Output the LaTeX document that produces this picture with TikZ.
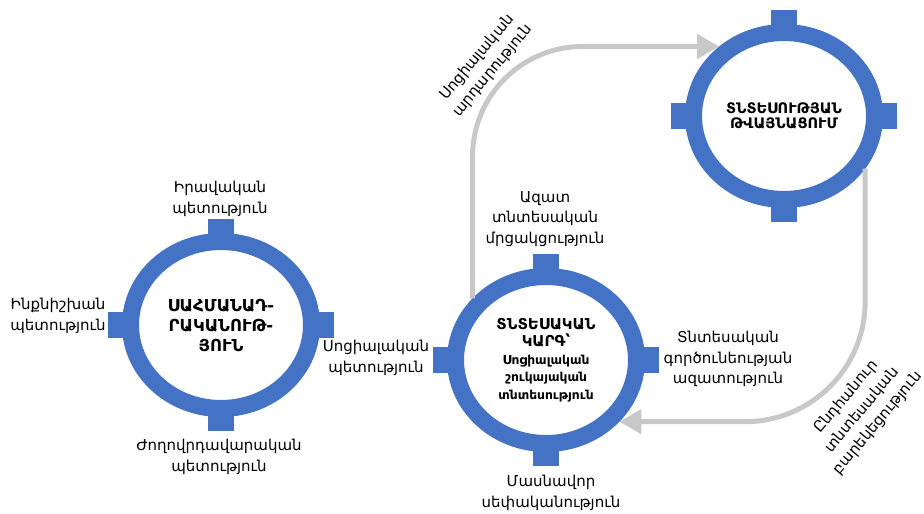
\documentclass[tikz,border=0pt]{standalone}
\usepackage{fontspec}
\setmainfont{DejaVu Sans}
\usetikzlibrary{shapes.geometric,arrows.meta,backgrounds}

\definecolor{ringblue}{RGB}{68,114,196}
\definecolor{flowgray}{RGB}{200,200,200}

\newcommand{\capsfont}{\bfseries\fontsize{15}{18}\selectfont}
\newcommand{\subfont}{\bfseries\fontsize{12.3}{17.5}\selectfont}

\tikzset{
  ring/.style={ellipse, draw=ringblue, line width=17pt, fill=white,
    minimum width=181pt, minimum height=167pt, inner sep=0pt,
    outer sep=8.5pt, align=center},
  flow/.style={draw=flowgray, line width=5pt,
    -{Triangle[length=22pt,width=24pt]}},
  lbl/.style={align=center, inner sep=0pt,
    font=\fontsize{15}{20.5}\selectfont},
}

\begin{document}
\begin{tikzpicture}[x=1pt,y=-1pt]
  \useasboundingbox (0,0) rectangle (924,514);

  % rings
  \begin{scope}[every node/.style={ring}]
    \node[font=\bfseries\fontsize{16.5}{20}\selectfont] (constitution) at (221,325)
      {ՍԱՀՄԱՆԱԴ-\\ՐԱԿԱՆՈՒԹ-\\ՅՈՒՆ};
    \node[font=\subfont] (order) at (546,360)
      {\capsfont ՏՆՏԵՍԱԿԱՆ\\\capsfont ԿԱՐԳ՝\\Սոցիալական\\շուկայական\\տնտեսություն};
    \node[font=\bfseries\fontsize{14.5}{15.5}\selectfont] (digital) at (784,116)
      {ՏՆՏԵՍՈՒԹՅԱՆ\\ԹՎԱՅՆԱՑՈՒՄ};
  \end{scope}

  % tabs
  \begin{pgfonlayer}{background}
    \foreach \r in {constitution,order,digital}{
      \fill[ringblue] ([xshift=-13pt,yshift=-12pt]\r.north) rectangle ([xshift=13pt,yshift=14pt]\r.north);
      \fill[ringblue] ([xshift=-13pt,yshift=12pt]\r.south) rectangle ([xshift=13pt,yshift=-14pt]\r.south);
      \fill[ringblue] ([xshift=12pt,yshift=-13pt]\r.west) rectangle ([xshift=-14pt,yshift=13pt]\r.west);
      \fill[ringblue] ([xshift=-12pt,yshift=-13pt]\r.east) rectangle ([xshift=14pt,yshift=13pt]\r.east);
    }
  \end{pgfonlayer}

  % labels
  \begin{scope}[every node/.style={lbl}]
    \node (lawful) at (220,199) {Իրավական\\պետություն};
    \node (sovereign) at (58,316) {Ինքնիշխան\\պետություն};
    \node (social) at (376,358) {Սոցիալական\\պետություն};
    \node (democratic) at (219,457) {Ժողովրդավարական\\պետություն};
    \node (competition) at (545,219) {Ազատ\\տնտեսական\\մրցակցություն};
    \node (freedom) at (728,359) {Տնտեսական\\գործունեության\\ազատություն};
    \node (property) at (551,493) {Մասնավոր\\սեփականություն};
    \node[rotate=50] (justice) at (485,64) {Սոցիալական\\արդարություն};
    \node[rotate=50] (welfare) at (862,410) {Ընդհանուր\\տնտեսական\\բարեկեցություն};
  \end{scope}

  % flows
  \draw[flow, rounded corners=110pt] (order.140) |- (digital.133);
  \draw[flow, rounded corners=120pt] (digital.-33) |- (order.-40);

\end{tikzpicture}
\end{document}
